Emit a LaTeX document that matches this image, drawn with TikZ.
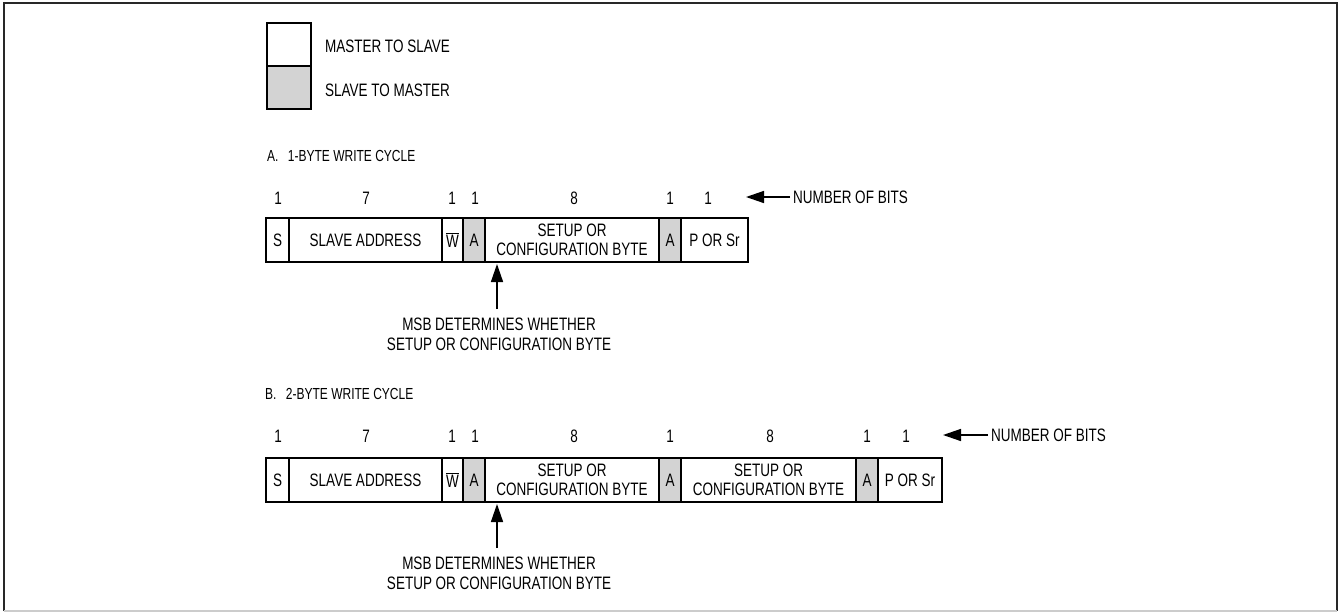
\documentclass[tikz,border=0pt]{standalone}
\usepackage{fontspec}
\setmainfont{Liberation Sans}[FakeStretch=0.75]
\usetikzlibrary{arrows.meta}
\definecolor{cellgray}{RGB}{211,211,211}
\definecolor{framegray}{RGB}{40,40,40}
\begin{document}
\begin{tikzpicture}[x=1pt,y=-1pt,
  every node/.style={font=\fontsize{18}{19}\selectfont, inner sep=0pt, outer sep=0pt},
  cell/.style={draw, line width=1.6pt, minimum height=44pt, anchor=west, align=center},
  gcell/.style={cell, fill=cellgray},
  bits/.style={},
  title/.style={anchor=west, font=\fontsize{16}{18}\selectfont},
  note/.style={align=center, font=\fontsize{18}{20}\selectfont},
  arr/.style={-{Triangle[length=18pt,width=12pt]}, line width=1.5pt},
  legendbox/.style={draw, line width=1.6pt, minimum width=44pt, minimum height=43pt, anchor=north west}
]
\useasboundingbox (0,0) rectangle (1340,613);
% frame
\draw[framegray, line width=2pt] (4,611) -- (4,3) -- (1337,3) -- (1337,611);
\draw[gray!40, line width=1.5pt] (4,611) -- (1337,611);

% legend
\node[legendbox] (lgM) at (267,23) {};
\node[legendbox, fill=cellgray] (lgS) at (267,66) {};
\node[anchor=west] (lgMt) at (325,46) {MASTER TO SLAVE};
\node[anchor=west] (lgSt) at (325,90) {SLAVE TO MASTER};

% ---------- A ----------
\node[title] (titleA) at (267,156) {A.\hspace{0.6em}1-BYTE WRITE CYCLE};
\node[bits] (na1) at (278,198) {1};
\node[bits] (na2) at (366,198) {7};
\node[bits] (na3) at (452,198) {1};
\node[bits] (na4) at (475,198) {1};
\node[bits] (na5) at (574,198) {8};
\node[bits] (na6) at (670,198) {1};
\node[bits] (na7) at (708,198) {1};
\coordinate (tipA) at (746,197);
\node[anchor=west, inner xsep=3pt] (nobA) at (790,197) {NUMBER OF BITS};
\draw[arr] (nobA.west) -- (tipA);

\node[cell, minimum width=23pt] (aS) at (266,240) {S};
\node[cell, minimum width=153pt] (aAddr) at (289,240) {SLAVE ADDRESS};
\node[cell, minimum width=21pt] (aW) at (442,240) {$\overline{\mbox{W}}$};
\node[gcell, minimum width=22pt] (aA1) at (463,240) {A};
\node[cell, minimum width=174pt] (aCfg) at (485,240) {SETUP OR\\CONFIGURATION BYTE};
\node[gcell, minimum width=22pt] (aA2) at (659,240) {A};
\node[cell, minimum width=67pt] (aP) at (681,240) {P OR Sr};

\node[note] (msbA) at (499,334) {MSB DETERMINES WHETHER\\SETUP OR CONFIGURATION BYTE};
\coordinate (upA) at (497,264);
\coordinate (lowA) at (497,309);
\draw[arr] (lowA) -- (upA);

% ---------- B ----------
\node[title] (titleB) at (265,394) {B.\hspace{0.6em}2-BYTE WRITE CYCLE};
\node[bits] (nb1) at (278,436) {1};
\node[bits] (nb2) at (366,436) {7};
\node[bits] (nb3) at (452,436) {1};
\node[bits] (nb4) at (475,436) {1};
\node[bits] (nb5) at (574,436) {8};
\node[bits] (nb6) at (670,436) {1};
\node[bits] (nb7) at (770,436) {8};
\node[bits] (nb8) at (867,436) {1};
\node[bits] (nb9) at (906,436) {1};
\coordinate (tipB) at (943,435);
\node[anchor=west, inner xsep=3pt] (nobB) at (988,435) {NUMBER OF BITS};
\draw[arr] (nobB.west) -- (tipB);

\node[cell, minimum width=23pt] (bS) at (266,480) {S};
\node[cell, minimum width=153pt] (bAddr) at (289,480) {SLAVE ADDRESS};
\node[cell, minimum width=21pt] (bW) at (442,480) {$\overline{\mbox{W}}$};
\node[gcell, minimum width=22pt] (bA1) at (463,480) {A};
\node[cell, minimum width=174pt] (bCfg1) at (485,480) {SETUP OR\\CONFIGURATION BYTE};
\node[gcell, minimum width=22pt] (bA2) at (659,480) {A};
\node[cell, minimum width=175pt] (bCfg2) at (681,480) {SETUP OR\\CONFIGURATION BYTE};
\node[gcell, minimum width=22pt] (bA3) at (856,480) {A};
\node[cell, minimum width=64pt] (bP) at (878,480) {P OR Sr};

\node[note] (msbB) at (499,573) {MSB DETERMINES WHETHER\\SETUP OR CONFIGURATION BYTE};
\coordinate (upB) at (497,504);
\coordinate (lowB) at (497,548);
\draw[arr] (lowB) -- (upB);
\end{tikzpicture}
\end{document}
